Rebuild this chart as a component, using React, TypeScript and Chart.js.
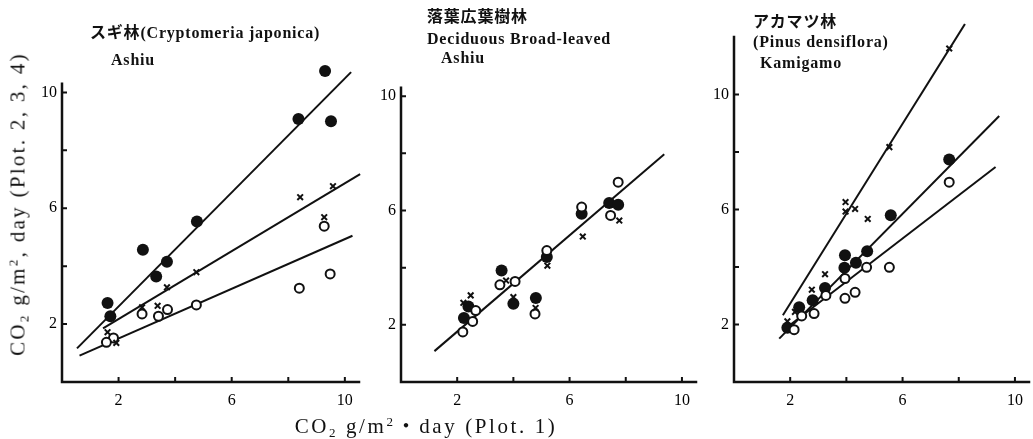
import React, { useEffect, useRef } from "react";
import { Chart, registerables } from "chart.js";

Chart.register(...registerables);

type Pt = [number, number];

// ---- Axis ticks ----
const xTickValues = [2, 4, 6, 8, 10];
const xTickLabels = ["2", "", "6", "", "10"];
const yTickValues = [2, 4, 6, 8, 10];
const yTickLabels = ["2", "", "6", "", "10"];

// ---- Panel 1: スギ林 (Cryptomeria japonica) Ashiu ----
const p1Filled: Pt[] = [[9.30, 10.74], [8.36, 9.08], [9.51, 9.00], [4.77, 5.54], [2.86, 4.57], [3.71, 4.15], [3.33, 3.64], [1.61, 2.73], [1.71, 2.27]];
const p1Cross: Pt[] = [[8.42, 6.38], [9.58, 6.76], [9.27, 5.69], [4.75, 3.79], [3.71, 3.27], [3.38, 2.63], [2.83, 2.58], [1.61, 1.72], [1.92, 1.35]];
const p1Open: Pt[] = [[9.27, 5.38], [9.48, 3.73], [8.39, 3.24], [4.75, 2.66], [3.73, 2.50], [3.41, 2.27], [2.83, 2.35], [1.82, 1.52], [1.57, 1.37]];
const p1FilledFit: Pt[] = [[0.53, 1.16], [10.22, 10.70]];
const p1CrossFit: Pt[] = [[1.45, 1.85], [10.54, 7.18]];
const p1OpenFit: Pt[] = [[0.62, 0.91], [10.27, 5.05]];

// ---- Panel 2: 落葉広葉樹林 Deciduous Broad-leaved, Ashiu ----
const p2Filled: Pt[] = [[2.24, 2.24], [2.40, 2.64], [3.58, 3.90], [4.00, 2.74], [4.80, 2.94], [5.19, 4.37], [6.43, 5.89], [7.41, 6.26], [7.73, 6.20]];
const p2Open: Pt[] = [[2.20, 1.75], [2.55, 2.12], [2.66, 2.50], [3.52, 3.40], [4.06, 3.52], [4.77, 2.38], [5.19, 4.60], [6.43, 6.12], [7.46, 5.83], [7.73, 6.99]];
const p2Cross: Pt[] = [[2.22, 2.77], [2.48, 3.03], [3.74, 3.55], [4.00, 2.97], [4.79, 2.59], [5.21, 4.07], [6.47, 5.09], [7.77, 5.65]];
const p2Fit: Pt[] = [[1.19, 1.08], [9.37, 7.97]];

// ---- Panel 3: アカマツ林 (Pinus densiflora) Kamigamo ----
const p3Cross: Pt[] = [[7.66, 11.60], [5.53, 8.17], [3.97, 6.26], [3.97, 5.93], [4.31, 6.02], [4.76, 5.67], [3.24, 3.75], [2.77, 3.21], [2.17, 2.44], [1.90, 2.11]];
const p3Filled: Pt[] = [[7.66, 7.74], [5.58, 5.80], [4.74, 4.55], [3.95, 4.41], [4.34, 4.15], [3.93, 3.97], [3.24, 3.27], [2.80, 2.84], [2.32, 2.60], [1.90, 1.89]];
const p3Open: Pt[] = [[7.66, 6.95], [5.53, 3.99], [4.72, 3.99], [3.95, 3.60], [4.31, 3.12], [3.95, 2.91], [3.27, 3.01], [2.85, 2.38], [2.41, 2.30], [2.14, 1.82]];
const p3CrossFit: Pt[] = [[1.74, 2.32], [8.22, 12.45]];
const p3FilledFit: Pt[] = [[1.61, 1.51], [9.44, 9.25]];
const p3OpenFit: Pt[] = [[1.75, 1.80], [9.31, 7.48]];

const W = 1033;
const H = 439;
const Y_W = 40;
const X_H = 30;
const INK = "#111";
const serif = "'Liberation Serif', 'Noto Sans CJK JP', serif";

// left/right/bottom in px; xMax/yMax = scale range; yAxisTop = where the drawn axis line ends
type Area = { left: number; right: number; bottom: number; xMax: number; yMax: number; yAxisTop: number; pxPerY: number };

const axesPlugin = (yAxisTop: number) => ({
  id: "innerAxes",
  afterDraw(chart: any) {
    const ctx = chart.ctx;
    const xs = chart.scales.x;
    const ys = chart.scales.y;
    const a = chart.chartArea;
    ctx.save();
    ctx.strokeStyle = INK;
    // axis lines
    ctx.lineWidth = 2.5;
    ctx.lineCap = "square";
    ctx.beginPath();
    ctx.moveTo(a.left, ys.getPixelForValue(yAxisTop));
    ctx.lineTo(a.left, a.bottom);
    ctx.lineTo(a.right, a.bottom);
    ctx.stroke();
    // inward tick marks
    ctx.lineWidth = 2;
    ctx.lineCap = "butt";
    ctx.beginPath();
    xs.ticks.forEach((t: any) => {
      const px = xs.getPixelForValue(t.value);
      ctx.moveTo(px, a.bottom);
      ctx.lineTo(px, a.bottom - 5);
    });
    ys.ticks.forEach((t: any) => {
      const py = ys.getPixelForValue(t.value);
      ctx.moveTo(a.left, py);
      ctx.lineTo(a.left + 5, py);
    });
    ctx.stroke();
    ctx.restore();
  },
});

const toXY = (arr: Pt[]) => arr.map(([x, y]) => ({ x, y }));

const fitSet = (d: Pt[]) => ({
  type: "line" as const,
  data: toXY(d),
  showLine: true,
  borderColor: INK,
  borderWidth: 2,
  pointRadius: 0,
  fill: false,
  clip: false as any,
  order: 10,
});
const filledSet = (d: Pt[]) => ({
  data: toXY(d),
  pointStyle: "circle",
  pointRadius: 6,
  pointBackgroundColor: INK,
  pointBorderColor: INK,
  pointBorderWidth: 0,
  showLine: false,
  clip: false as any,
  order: 2,
});
const openSet = (d: Pt[]) => ({
  data: toXY(d),
  pointStyle: "circle",
  pointRadius: 4.5,
  pointBackgroundColor: "#fff",
  pointBorderColor: INK,
  pointBorderWidth: 2,
  showLine: false,
  clip: false as any,
  order: 1,
});
const crossSet = (d: Pt[]) => ({
  data: toXY(d),
  pointStyle: "crossRot",
  pointRadius: 4,
  pointBorderColor: INK,
  pointBorderWidth: 2,
  showLine: false,
  clip: false as any,
  order: 0,
});

function makeChart(canvas: HTMLCanvasElement, area: Area, datasets: any[]) {
  const top = area.bottom - area.yMax * area.pxPerY;
  return new Chart(canvas, {
    type: "scatter",
    data: { datasets },
    plugins: [axesPlugin(area.yAxisTop)],
    options: {
      responsive: false,
      maintainAspectRatio: false,
      animation: false,
      devicePixelRatio: 1,
      layout: {
        autoPadding: false,
        padding: {
          left: area.left - Y_W,
          right: W - area.right,
          top: top,
          bottom: H - area.bottom - X_H,
        },
      },
      plugins: { legend: { display: false }, tooltip: { enabled: false }, title: { display: false } },
      scales: {
        x: {
          type: "linear",
          min: 0,
          max: area.xMax,
          afterBuildTicks: (s: any) => {
            s.ticks = xTickValues.map((v) => ({ value: v }));
          },
          afterFit: (s: any) => {
            s.height = X_H;
          },
          ticks: {
            autoSkip: false,
            maxRotation: 0,
            padding: 9,
            color: "#000",
            font: { family: serif, size: 16 },
            callback: (v: any) => {
              const i = xTickValues.indexOf(Number(v));
              return i >= 0 ? xTickLabels[i] : "";
            },
          },
          grid: { display: false, drawTicks: false },
          border: { display: false },
        },
        y: {
          type: "linear",
          min: 0,
          max: area.yMax,
          afterBuildTicks: (s: any) => {
            s.ticks = yTickValues.map((v) => ({ value: v }));
          },
          afterFit: (s: any) => {
            s.width = Y_W;
          },
          ticks: {
            autoSkip: false,
            padding: 5,
            color: "#000",
            font: { family: serif, size: 16 },
            callback: (v: any) => {
              const i = yTickValues.indexOf(Number(v));
              return i >= 0 ? yTickLabels[i] : "";
            },
          },
          grid: { display: false, drawTicks: false },
          border: { display: false },
        },
      },
    } as any,
  });
}

const AREA1: Area = { left: 62, right: 359, bottom: 382, xMax: 10.5, yMax: 11.3, yAxisTop: 10.3, pxPerY: 28.96 };
const AREA2: Area = { left: 401, right: 696, bottom: 382, xMax: 10.5, yMax: 10.3, yAxisTop: 10.3, pxPerY: 28.58 };
const AREA3: Area = { left: 734, right: 1029, bottom: 382, xMax: 10.5, yMax: 12, yAxisTop: 12, pxPerY: 28.75 };

const titleStyle: React.CSSProperties = {
  position: "absolute",
  whiteSpace: "nowrap",
  fontFamily: serif,
  fontWeight: 700,
  fontSize: 16,
  letterSpacing: "0.8px",
  lineHeight: "18px",
  color: INK,
};

function T({ x, cy, children }: { x: number; cy: number; children: React.ReactNode }) {
  return <div style={{ ...titleStyle, left: x, top: cy - 9 }}>{children}</div>;
}

export default function App() {
  const c1 = useRef<HTMLCanvasElement>(null);
  const c2 = useRef<HTMLCanvasElement>(null);
  const c3 = useRef<HTMLCanvasElement>(null);

  useEffect(() => {
    document.body.style.margin = "0";
    document.body.style.background = "#fff";
    const charts = [
      makeChart(c1.current!, AREA1, [
        fitSet(p1FilledFit), fitSet(p1CrossFit), fitSet(p1OpenFit),
        filledSet(p1Filled), openSet(p1Open), crossSet(p1Cross),
      ]),
      makeChart(c2.current!, AREA2, [
        fitSet(p2Fit),
        filledSet(p2Filled), openSet(p2Open), crossSet(p2Cross),
      ]),
      makeChart(c3.current!, AREA3, [
        fitSet(p3CrossFit), fitSet(p3FilledFit), fitSet(p3OpenFit),
        filledSet(p3Filled), openSet(p3Open), crossSet(p3Cross),
      ]),
    ];
    return () => charts.forEach((c) => c.destroy());
  }, []);

  const cv: React.CSSProperties = { position: "absolute", left: 0, top: 0 };
  const sub: React.CSSProperties = { fontSize: "0.62em", verticalAlign: "-0.3em", lineHeight: 0 };
  const sup: React.CSSProperties = { fontSize: "0.62em", verticalAlign: "0.55em", lineHeight: 0 };
  const axisTitle: React.CSSProperties = {
    position: "absolute",
    whiteSpace: "nowrap",
    fontFamily: serif,
    fontSize: 21,
    color: INK,
  };

  return (
    <div style={{ position: "fixed", left: 0, top: 0, width: W, height: H, background: "#fff", overflow: "hidden" }}>
      <canvas ref={c1} width={W} height={H} style={cv} />
      <canvas ref={c2} width={W} height={H} style={cv} />
      <canvas ref={c3} width={W} height={H} style={cv} />

      <T x={90} cy={33}>スギ林(Cryptomeria japonica)</T>
      <T x={111} cy={60}>Ashiu</T>

      <T x={427} cy={17}>落葉広葉樹林</T>
      <T x={427} cy={39}>Deciduous Broad-leaved</T>
      <T x={441} cy={58}>Ashiu</T>

      <T x={753} cy={22}>アカマツ林</T>
      <T x={753} cy={42}>(Pinus densiflora)</T>
      <T x={760} cy={63}>Kamigamo</T>

      <div style={{ ...axisTitle, letterSpacing: "2.3px", left: 18, top: 204, transform: "translate(-50%, -50%) rotate(-90deg)" }}>
        CO<span style={sub}>2</span> g/m<span style={sup}>2</span>, day (Plot. 2, 3, 4)
      </div>
      <div style={{ ...axisTitle, letterSpacing: "2.6px", left: 426, top: 424, transform: "translate(-50%, -50%)" }}>
        CO<span style={sub}>2</span> g/m<span style={sup}>2</span>・day (Plot. 1)
      </div>
    </div>
  );
}
